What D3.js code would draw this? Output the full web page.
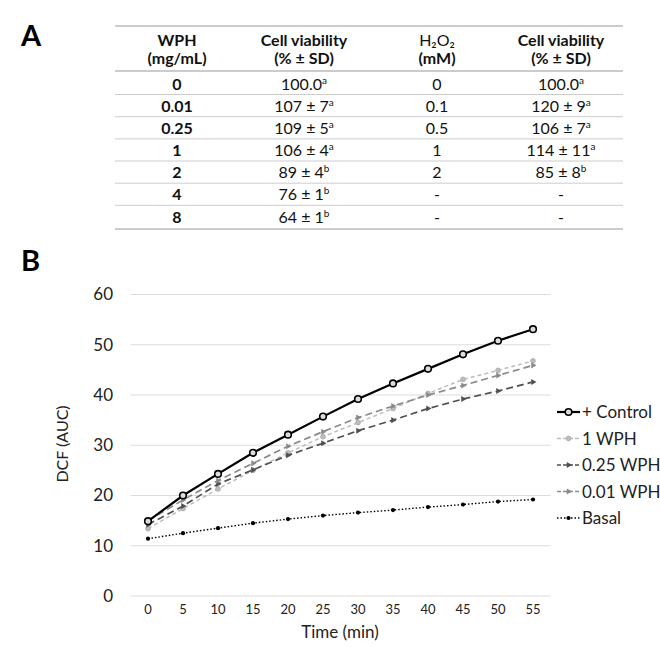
<!DOCTYPE html>
<html>
<head>
<meta charset="utf-8">
<script src="https://cdn.jsdelivr.net/npm/d3@7"></script>
<style>
  body { margin: 0; background: #fff; }
  svg { display: block; font-family: Lato, "Open Sans", sans-serif; }
</style>
</head>
<body>
<div id="fig"></div>
<script>
// Panel A table data
var wphConc = ["0", "0.01", "0.25", "1", "2", "4", "8"];
var wphViability = ["100.0", "107 ± 7", "109 ± 5", "106 ± 4", "89 ± 4", "76 ± 1", "64 ± 1"];
var wphLetter = ["a", "a", "a", "a", "b", "b", "b"];
var h2o2Conc = ["0", "0.1", "0.5", "1", "2", "-", "-"];
var h2o2Viability = ["100.0", "120 ± 9", "106 ± 7", "114 ± 11", "85 ± 8", "-", "-"];
var h2o2Letter = ["a", "a", "a", "a", "b", "", ""];

// Panel B data
var times = [0, 5, 10, 15, 20, 25, 30, 35, 40, 45, 50, 55];
var control = [14.9, 20.0, 24.3, 28.5, 32.1, 35.7, 39.2, 42.3, 45.2, 48.1, 50.8, 53.1];
var wph1 = [13.4, 17.4, 21.3, 25.0, 28.5, 31.7, 34.5, 37.3, 40.3, 43.1, 44.9, 46.8];
var wph025 = [14.2, 17.9, 22.3, 25.1, 28.0, 30.4, 32.9, 35.0, 37.3, 39.2, 40.8, 42.6];
var wph001 = [15.0, 19.1, 23.0, 26.4, 29.8, 32.7, 35.5, 37.8, 40.0, 41.9, 43.9, 45.9];
var basal = [11.4, 12.5, 13.5, 14.5, 15.3, 16.0, 16.6, 17.1, 17.7, 18.2, 18.8, 19.2];
var yTicks = [0, 10, 20, 30, 40, 50, 60];

var width = 660, height = 647;
var svg = d3.select("#fig").append("svg")
    .attr("width", width)
    .attr("height", height);

// ---------- Panel A ----------
svg.append("text").attr("x", 21).attr("y", 46)
   .style("font-size", "29px").style("font-weight", "bold").text("A");

var tbl = { left: 115, right: 623, top: 26, headBottom: 71, bottom: 229 };
var colX = [177, 304, 437, 561];
var rowY = d3.scaleLinear().domain([0, 6]).range([83.5, 216.5]);

svg.append("line").attr("x1", tbl.left).attr("x2", tbl.right)
   .attr("y1", tbl.top).attr("y2", tbl.top).attr("stroke", "#999").attr("stroke-width", 1.2);
svg.append("line").attr("x1", tbl.left).attr("x2", tbl.right)
   .attr("y1", tbl.headBottom).attr("y2", tbl.headBottom).attr("stroke", "#999").attr("stroke-width", 1.2);
svg.append("line").attr("x1", tbl.left).attr("x2", tbl.right)
   .attr("y1", tbl.bottom).attr("y2", tbl.bottom).attr("stroke", "#999").attr("stroke-width", 1.2);

// row separators
svg.selectAll(".rowsep").data(d3.range(6)).enter().append("line")
   .attr("x1", tbl.left).attr("x2", tbl.right)
   .attr("y1", d => rowY(d) + 11).attr("y2", d => rowY(d) + 11)
   .attr("stroke", "#ccc").attr("stroke-width", 1);

var head = svg.append("g").style("font-size", "16px").style("font-weight", "bold")
    .attr("text-anchor", "middle").attr("fill", "#111");
head.append("text").attr("x", colX[0]).attr("y", 46).text("WPH");
head.append("text").attr("x", colX[0]).attr("y", 64).text("(mg/mL)");
head.append("text").attr("x", colX[1]).attr("y", 46).text("Cell viability");
head.append("text").attr("x", colX[1]).attr("y", 64).text("(% ± SD)");
head.append("text").attr("x", colX[2]).attr("y", 46).style("font-weight", "normal").text("H₂O₂");
head.append("text").attr("x", colX[2]).attr("y", 64).text("(mM)");
head.append("text").attr("x", colX[3]).attr("y", 46).text("Cell viability");
head.append("text").attr("x", colX[3]).attr("y", 64).text("(% ± SD)");

function cell(x, y, txt, sup, bold) {
  var t = svg.append("text").attr("x", x).attr("y", y)
      .attr("text-anchor", "middle").style("font-size", "16px")
      .style("font-weight", bold ? "bold" : "normal").style("fill", "#111");
  t.append("tspan").text(txt);
  if (sup) t.append("tspan").attr("font-size", "10px").attr("dy", -6).text(sup);
}
wphConc.forEach(function(d, i) {
  var y = rowY(i) + 6;
  cell(colX[0], y, d, "", true);
  cell(colX[1], y, wphViability[i], wphLetter[i], false);
  cell(colX[2], y, h2o2Conc[i], "", false);
  cell(colX[3], y, h2o2Viability[i], h2o2Letter[i], false);
});

// ---------- Panel B ----------
svg.append("text").attr("x", 21).attr("y", 271)
   .style("font-size", "29px").style("font-weight", "bold").text("B");

var x = d3.scaleBand().domain(times).range([130.5, 550.5]);
var y = d3.scaleLinear().domain([0, 60]).range([596, 294.5]);
var cx = d => x(d) + x.bandwidth() / 2;

// gridlines
svg.append("g").selectAll("line").data(yTicks).enter().append("line")
   .attr("x1", 130.5).attr("x2", 550.5)
   .attr("y1", d => y(d)).attr("y2", d => y(d))
   .attr("stroke", "#dcdcdc").attr("stroke-width", 1);

var yAxis = svg.append("g").attr("transform", "translate(130,0)")
   .call(d3.axisLeft(y).tickValues(yTicks).tickSize(0).tickPadding(17));
yAxis.select(".domain").remove();
yAxis.selectAll("text").style("font-size", "17px").style("font-family", "Lato, sans-serif").attr("fill", "#222");

var xAxis = svg.append("g").attr("transform", "translate(0,596)")
   .call(d3.axisBottom(x).tickSize(0).tickPadding(9));
xAxis.select(".domain").remove();
xAxis.selectAll("text").style("font-size", "13px").style("font-family", "Lato, sans-serif").attr("fill", "#222");

svg.append("text").attr("x", 340).attr("y", 638).attr("text-anchor", "middle")
   .style("font-size", "17px").attr("fill", "#222").text("Time (min)");
svg.append("text").attr("transform", "translate(68,444) rotate(-90)")
   .attr("text-anchor", "middle").style("font-size", "16px").attr("fill", "#222").text("DCF (AUC)");

var series = [
  { name: "+ Control", values: control, color: "#000", width: 2.2, dash: null, marker: "circle" },
  { name: "1 WPH", values: wph1, color: "#bdbdbd", width: 1.5, dash: "4,3", marker: "dot" },
  { name: "0.25 WPH", values: wph025, color: "#505050", width: 1.7, dash: "7,4", marker: "tri" },
  { name: "0.01 WPH", values: wph001, color: "#8a8a8a", width: 1.7, dash: "7,4", marker: "tri" },
  { name: "Basal", values: basal, color: "#000", width: 1.4, dash: "1.5,2", marker: "small" }
];

var line = d3.line().x((d, i) => cx(times[i])).y(d => y(d));

function drawMarker(g, s, px, py) {
  if (s.marker === "circle") {
    g.append("circle").attr("cx", px).attr("cy", py).attr("r", 3.3)
     .attr("fill", "#ddd").attr("stroke", "#000").attr("stroke-width", 1.6);
  } else if (s.marker === "dot") {
    g.append("circle").attr("cx", px).attr("cy", py).attr("r", 2.4)
     .attr("fill", "#bdbdbd").attr("stroke", "#a8a8a8").attr("stroke-width", 0.8);
  } else if (s.marker === "tri") {
    g.append("path").attr("d", d3.symbol().type(d3.symbolTriangle).size(16)())
     .attr("transform", "translate(" + px + "," + py + ") rotate(90)")
     .attr("fill", s.color);
  } else {
    g.append("circle").attr("cx", px).attr("cy", py).attr("r", 2.1).attr("fill", "#000");
  }
}

// draw from back to front
[4, 1, 2, 3, 0].forEach(function(k) {
  var s = series[k];
  var g = svg.append("g");
  g.append("path").datum(s.values).attr("d", line)
   .attr("fill", "none").attr("stroke", s.color).attr("stroke-width", s.width)
   .attr("stroke-dasharray", s.dash);
  s.values.forEach(function(v, i) { drawMarker(g, s, cx(times[i]), y(v)); });
});

// legend
var leg = svg.append("g");
series.forEach(function(s, i) {
  var ly = 412 + i * 26.5;
  leg.append("line").attr("x1", 557).attr("x2", 580).attr("y1", ly).attr("y2", ly)
     .attr("stroke", s.color).attr("stroke-width", s.width)
     .attr("stroke-dasharray", s.marker === "small" ? "1.5,2" : (s.dash ? "4,2" : null));
  drawMarker(leg, s, 568.5, ly);
  leg.append("text").attr("x", 582).attr("y", ly + 6)
     .style("font-size", "17px").attr("fill", "#222").text(s.name);
});
</script>
</body>
</html>
